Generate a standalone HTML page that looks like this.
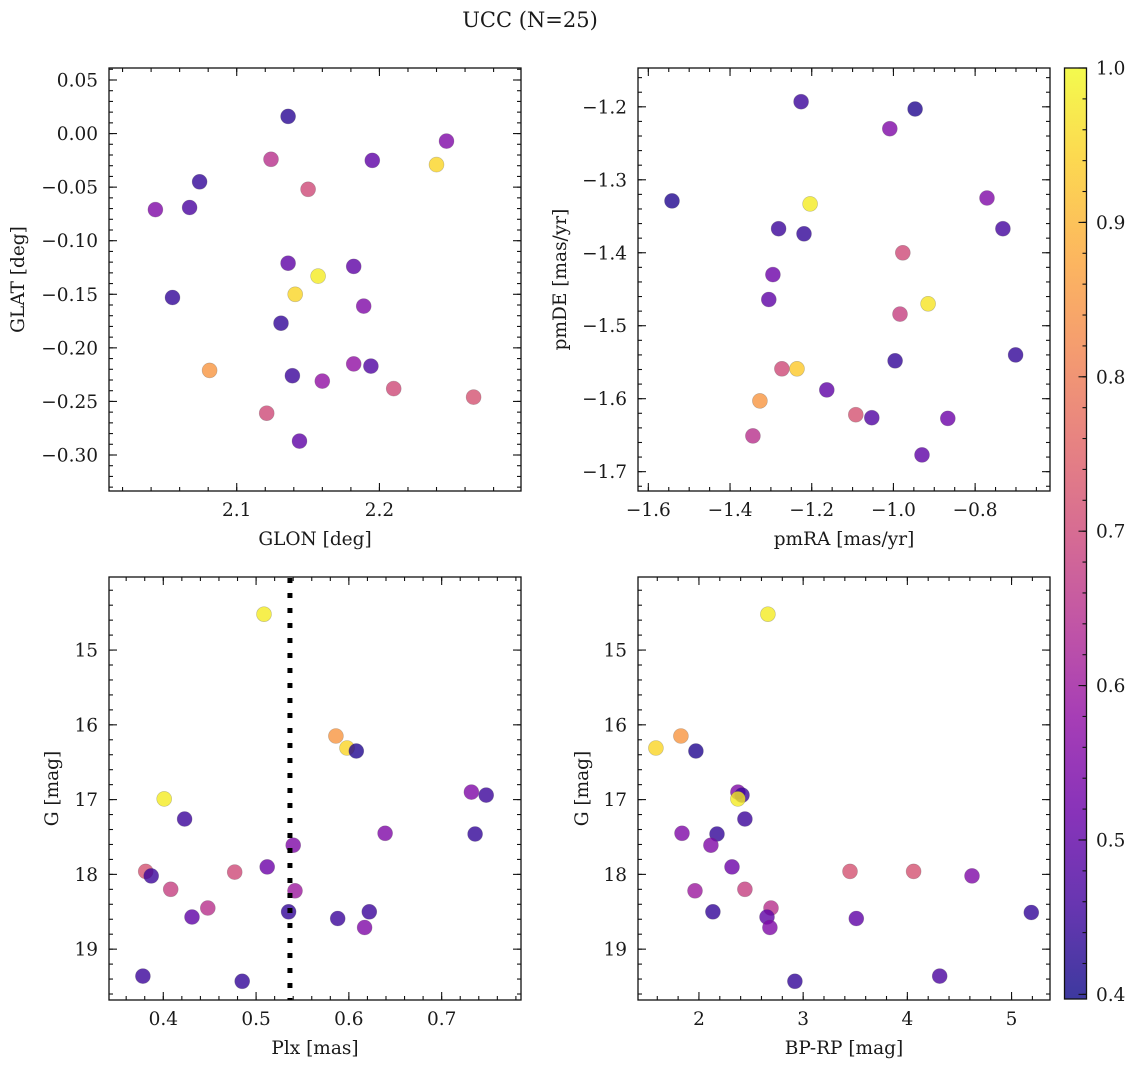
<!DOCTYPE html>
<html><head><meta charset="utf-8"><style>
html,body{margin:0;padding:0;background:#fff;}
svg text{font-family:"DejaVu Serif","Liberation Serif",serif;fill:#1a1a1a;}
</style></head><body>
<svg id="fig" width="1136" height="1067" viewBox="0 0 1136 1067" xmlns="http://www.w3.org/2000/svg">
<defs>
<linearGradient id="cbgrad" x1="0" y1="1" x2="0" y2="0">
<stop offset="0" stop-color="#0d0887"/><stop offset="0.1" stop-color="#41049d"/><stop offset="0.2" stop-color="#6a00a8"/><stop offset="0.3" stop-color="#8f0da4"/><stop offset="0.4" stop-color="#b12a90"/><stop offset="0.5" stop-color="#cc4778"/><stop offset="0.6" stop-color="#e16462"/><stop offset="0.7" stop-color="#f2844b"/><stop offset="0.8" stop-color="#fca636"/><stop offset="0.9" stop-color="#fcce25"/><stop offset="1" stop-color="#f0f921"/>
</linearGradient>
</defs>
<text x="530" y="27" font-size="21" text-anchor="middle">UCC (N=25)</text>
</svg>
<script>
// ---- data ----
const glon = [2.136,2.247,2.124,2.195,2.240,2.150,2.074,2.043,2.067,2.136,2.157,2.182,2.141,2.055,2.189,2.131,2.081,2.139,2.160,2.182,2.194,2.210,2.266,2.121,2.144];
const glat = [0.016,-0.007,-0.024,-0.025,-0.029,-0.052,-0.045,-0.071,-0.069,-0.121,-0.133,-0.124,-0.150,-0.153,-0.161,-0.177,-0.221,-0.226,-0.231,-0.215,-0.217,-0.238,-0.246,-0.261,-0.287];
const probTL = [0.43,0.55,0.65,0.50,0.95,0.70,0.44,0.55,0.47,0.50,0.98,0.50,0.95,0.44,0.55,0.44,0.85,0.45,0.58,0.58,0.48,0.70,0.72,0.70,0.50];

const pmra = [-1.226,-0.947,-1.009,-1.542,-1.204,-0.771,-1.281,-1.219,-0.732,-1.295,-0.977,-1.305,-0.915,-0.984,-0.996,-0.701,-1.273,-1.236,-1.163,-1.327,-1.092,-1.053,-0.867,-1.344,-0.930];
const pmde = [-1.193,-1.203,-1.230,-1.329,-1.333,-1.325,-1.367,-1.374,-1.367,-1.430,-1.400,-1.464,-1.470,-1.484,-1.548,-1.540,-1.559,-1.559,-1.588,-1.603,-1.622,-1.626,-1.627,-1.651,-1.677];
const probTR = [0.45,0.42,0.55,0.42,0.98,0.55,0.45,0.44,0.46,0.52,0.70,0.50,0.97,0.68,0.44,0.44,0.70,0.93,0.50,0.85,0.72,0.48,0.52,0.65,0.50];

const plx = [0.5085,0.586,0.598,0.608,0.401,0.732,0.748,0.423,0.639,0.736,0.540,0.512,0.381,0.477,0.387,0.408,0.542,0.448,0.431,0.535,0.588,0.622,0.617,0.378,0.485];
const gmagBL = [14.52,16.15,16.31,16.35,16.99,16.90,16.94,17.26,17.45,17.46,17.61,17.90,17.96,17.97,18.02,18.20,18.22,18.45,18.57,18.50,18.59,18.50,18.71,19.36,19.43];
const probBL = [0.98,0.85,0.95,0.42,0.98,0.55,0.45,0.45,0.55,0.44,0.55,0.52,0.72,0.70,0.45,0.68,0.60,0.65,0.50,0.44,0.45,0.45,0.55,0.45,0.44];
const plxMedian = 0.5365;

const bprp = [2.662,1.587,1.827,1.971,2.374,2.413,2.374,2.441,1.837,2.173,2.115,2.317,3.45,4.06,4.62,1.962,2.441,2.691,2.653,2.134,3.51,5.19,2.681,4.31,2.921];
const gmagBR = [14.52,16.31,16.15,16.35,16.90,16.94,16.99,17.26,17.45,17.46,17.61,17.90,17.96,17.96,18.02,18.22,18.20,18.45,18.57,18.50,18.59,18.51,18.71,19.36,19.43];
const probBR = [0.98,0.95,0.85,0.42,0.55,0.45,0.98,0.45,0.55,0.44,0.55,0.52,0.72,0.72,0.55,0.60,0.68,0.65,0.50,0.44,0.50,0.44,0.55,0.47,0.44];

const ticksGLON = [2.1,2.2];
const ticksGLAT = [0.05,0.00,-0.05,-0.10,-0.15,-0.20,-0.25,-0.30];
const ticksPMRA = [-1.6,-1.4,-1.2,-1.0,-0.8];
const ticksPMDE = [-1.2,-1.3,-1.4,-1.5,-1.6,-1.7];
const ticksPLX = [0.4,0.5,0.6,0.7];
const ticksG = [15,16,17,18,19];
const ticksBPRP = [2,3,4,5];
const ticksCB = [0.4,0.5,0.6,0.7,0.8,0.9,1.0];

// ---- helpers ----
const NS = "http://www.w3.org/2000/svg";
const svg = document.getElementById('fig');
const VMIN = 0.397, VMAX = 1.0;
const FS = 18.5;
const stops = ["#0d0887","#41049d","#6a00a8","#8f0da4","#b12a90","#cc4778","#e16462","#f2844b","#fca636","#fcce25","#f0f921"];
function hex(h){return [parseInt(h.substr(1,2),16),parseInt(h.substr(3,2),16),parseInt(h.substr(5,2),16)];}
function plasma(v){
  let t=(v-VMIN)/(VMAX-VMIN); t=Math.max(0,Math.min(1,t));
  const p=t*10, i=Math.min(9,Math.floor(p)), f=p-i;
  const a=hex(stops[i]), b=hex(stops[i+1]);
  return 'rgb('+a.map((c,k)=>Math.round(c+(b[k]-c)*f)).join(',')+')';
}
function mk(tag, attrs, parent){
  const e=document.createElementNS(NS,tag);
  for(const k in attrs) e.setAttribute(k,attrs[k]);
  (parent||svg).appendChild(e); return e;
}
function fmt(v,d){const s=v.toFixed(d); return s.replace('-','\u2212');}
function lin(d0,d1,r0,r1){return v=>r0+(v-d0)/(d1-d0)*(r1-r0);}

function panel(name, box, xd, yd, xt, yt, xminor, yminor, xdec, ydec, xlab, ylab, ylx, xs, ys, cs){
  const g=mk('g',{});
  
  
  const X=lin(xd[0],xd[1],box.l,box.r), Y=lin(yd[0],yd[1],box.b,box.t);
  for(let i=0;i<xs.length;i++){
    const c=mk('circle',{cx:X(xs[i]).toFixed(1),cy:Y(ys[i]).toFixed(1),r:7.5,fill:plasma(cs[i]),'fill-opacity':0.8,stroke:'#555','stroke-opacity':0.35,'stroke-width':0.6},g);
    
    
  }
  const tk=mk('g',{stroke:'#111','stroke-width':1.1},g);
  const xlo=Math.min(xd[0],xd[1]), xhi=Math.max(xd[0],xd[1]);
  const ylo=Math.min(yd[0],yd[1]), yhi=Math.max(yd[0],yd[1]);
  for(let v=Math.ceil(xlo/xminor-1e-6)*xminor; v<=xhi+1e-9; v+=xminor){
    const x=X(v); mk('line',{x1:x,y1:box.b,x2:x,y2:box.b-4},tk); mk('line',{x1:x,y1:box.t,x2:x,y2:box.t+4},tk);
  }
  for(let v=Math.ceil(ylo/yminor-1e-6)*yminor; v<=yhi+1e-9; v+=yminor){
    const y=Y(v); mk('line',{x1:box.l,y1:y,x2:box.l+4,y2:y},tk); mk('line',{x1:box.r,y1:y,x2:box.r-4,y2:y},tk);
  }
  xt.forEach(v=>{const x=X(v); mk('line',{x1:x,y1:box.b,x2:x,y2:box.b-8},tk); mk('line',{x1:x,y1:box.t,x2:x,y2:box.t+8},tk);
    const t=mk('text',{x:x,y:box.b+25,'font-size':FS,'text-anchor':'middle'},g); t.textContent=fmt(v,xdec);
    
    });
  yt.forEach(v=>{const y=Y(v); mk('line',{x1:box.l,y1:y,x2:box.l+8,y2:y},tk); mk('line',{x1:box.r,y1:y,x2:box.r-8,y2:y},tk);
    const t=mk('text',{x:box.l-11,y:y+6.5,'font-size':FS,'text-anchor':'end'},g); t.textContent=fmt(v,ydec);
    
    });
  const fr=mk('rect',{x:box.l,y:box.t,width:box.r-box.l,height:box.b-box.t,fill:'none',stroke:'#111','stroke-width':1.3},g);
  
  
  const xl=mk('text',{x:(box.l+box.r)/2,y:box.b+54,'font-size':FS,'text-anchor':'middle'},g); xl.textContent=xlab;
  
  
  const yc=(box.t+box.b)/2;
  const yl=mk('text',{x:ylx,y:yc,'font-size':FS,'text-anchor':'middle',transform:'rotate(-90 '+ylx+' '+yc+')'},g); yl.textContent=ylab;
  
  
  return {X,Y,g};
}

panel('panel-glon-glat',{l:109,r:521,t:68,b:491},[2.0105,2.2992],[-0.3336,0.0612],ticksGLON,ticksGLAT,0.02,0.01,1,2,'GLON [deg]','GLAT [deg]',24,glon,glat,probTL);
panel('panel-pm',{l:638,r:1050,t:68,b:491},[-1.6253,-0.6167],[-1.7265,-1.1468],ticksPMRA,ticksPMDE,0.05,0.02,1,1,'pmRA [mas/yr]','pmDE [mas/yr]',566,pmra,pmde,probTR);
const bl=panel('panel-plx-g',{l:109,r:521,t:577,b:1000},[0.3415,0.7855],[19.68,14.023],ticksPLX,ticksG,0.02,0.2,1,0,'Plx [mas]','G [mag]',58,plx,gmagBL,probBL);
const ml=mk('line',{x1:bl.X(plxMedian),y1:578,x2:bl.X(plxMedian),y2:1000,stroke:'#000','stroke-width':5,'stroke-dasharray':'5 10'},bl.g);


panel('panel-cmd',{l:638,r:1050,t:577,b:1000},[1.415,5.369],[19.68,14.023],ticksBPRP,ticksG,0.2,0.2,0,0,'BP-RP [mag]','G [mag]',588,bprp,gmagBR,probBR);

const cb=mk('g',{});


const CY=lin(VMIN,VMAX,999,68);
mk('rect',{x:1064.5,y:68,width:22,height:931,fill:'url(#cbgrad)','fill-opacity':0.8},cb);
mk('rect',{x:1064.5,y:68,width:22,height:931,fill:'none',stroke:'#111','stroke-width':1.3},cb);
for(let v=0.4; v<=1.0001; v+=0.02){const y=CY(v); mk('line',{x1:1086.5,y1:y,x2:1082.5,y2:y,stroke:'#111','stroke-width':1.1},cb);}
ticksCB.forEach(v=>{const y=CY(v); mk('line',{x1:1086.5,y1:y,x2:1078.5,y2:y,stroke:'#111','stroke-width':1.1},cb);
  const t=mk('text',{x:1096,y:y+6.5,'font-size':FS},cb); t.textContent=v.toFixed(1);
  
  });
</script>
</body></html>
